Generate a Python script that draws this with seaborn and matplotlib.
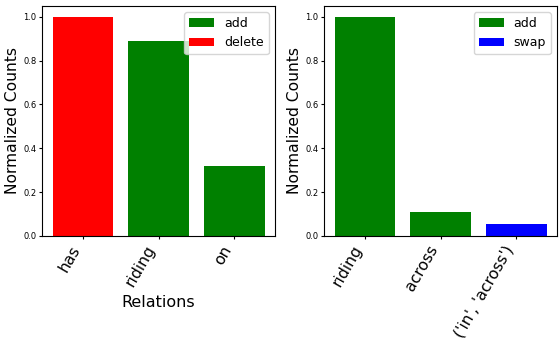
import pandas as pd
import seaborn as sns
import matplotlib.pyplot as plt

# left panel
rel_left = ['has', 'riding', 'on']
val_left = [1.0, 0.892, 0.32]
op_left = ['delete', 'add', 'add']

# right panel
rel_right = ['riding', 'across', "('in', 'across')"]
val_right = [1.0, 0.11, 0.055]
op_right = ['add', 'add', 'swap']

colori = {'add': 'green', 'delete': 'red', 'swap': 'blue'}

df_left = pd.DataFrame({'rel': rel_left, 'val': val_left, 'op': op_left})
df_right = pd.DataFrame({'rel': rel_right, 'val': val_right, 'op': op_right})

fig, axes = plt.subplots(1, 2, figsize=(5.6, 3.47), dpi=100)
plt.subplots_adjust(left=0.075, right=0.995, bottom=0.32, top=0.983, wspace=0.21)

for ax, df, hue_order in [(axes[0], df_left, ['add', 'delete']),
                          (axes[1], df_right, ['add', 'swap'])]:
    sns.barplot(data=df, x='rel', y='val', hue='op', hue_order=hue_order,
                palette=colori, dodge=False, saturation=1, ax=ax)
    ax.set_ylabel('Normalized Counts', fontsize=11.2, labelpad=2)
    ax.set_xlabel('')
    ax.tick_params(axis='y', labelsize=6, length=2, pad=2)
    ax.tick_params(axis='x', labelsize=11.3, length=2, pad=3)
    plt.setp(ax.get_xticklabels(), rotation=60, ha='right')
    ax.set_xlim(-0.54, 2.54)
    ax.set_ylim(0, 1.05)
    ax.legend(loc='upper right', fontsize=9)

axes[0].set_xlabel('Relations', fontsize=11.5, labelpad=4)

plt.savefig('out.png')
